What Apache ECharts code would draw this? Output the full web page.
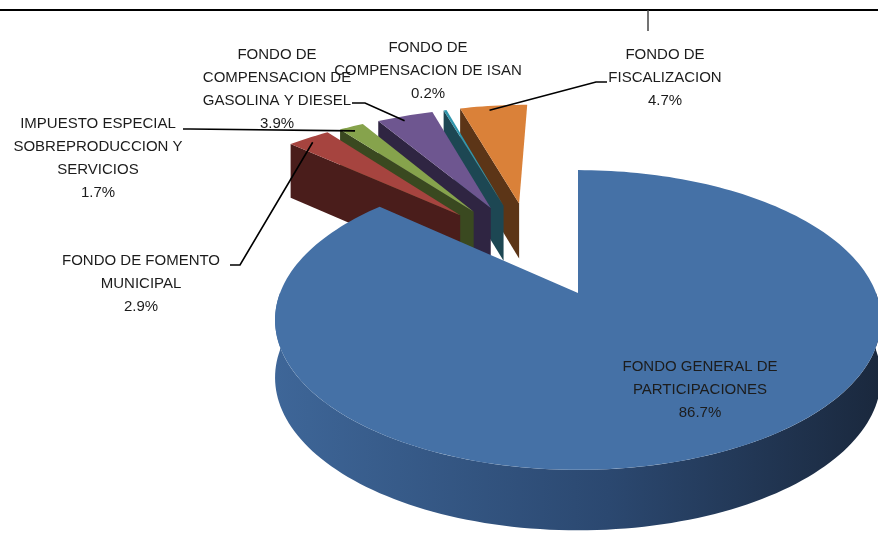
<!DOCTYPE html>
<html>
<head>
<meta charset="utf-8">
<script src="https://cdn.jsdelivr.net/npm/echarts@6/dist/echarts.min.js"></script>
<style>
  html, body { margin: 0; padding: 0; background: #fff; }
  #chart { width: 878px; height: 533px; }
</style>
</head>
<body>
<div id="chart"></div>
<script>
// Data (pie order, clockwise from 12 o'clock)
const categories = [
    'FONDO GENERAL DE\nPARTICIPACIONES',
    'FONDO DE FOMENTO\nMUNICIPAL',
    'IMPUESTO ESPECIAL\nSOBREPRODUCCION Y\nSERVICIOS',
    'FONDO DE\nCOMPENSACION DE\nGASOLINA Y DIESEL',
    'FONDO DE\nCOMPENSACION DE ISAN',
    'FONDO DE\nFISCALIZACION'
];
const shares = [86.7, 2.9, 1.7, 3.9, 0.2, 4.7];

// Styling
const topColors = ['#4571a6', '#a6443f', '#86a34c', '#6e5690', '#3196ad', '#da8139'];
const sideColors = ['#2c4a70', '#4a1d1b', '#3a4920', '#2f2542', '#1d4753', '#5c3517'];
const explode = [0, 0.72, 0.72, 0.72, 0.72, 0.72];

// label block centres and leader line points (label side)
const labelPos = [[700, 390], [141, 284], [98, 158], [277, 89], [428, 71], [665, 78]];
const leaderPts = [null, [[230, 265], [240, 265]], [[183, 129], [190, 129]], [[352, 103], [365, 103]], null, [[607, 82], [596, 82]]];

// Pseudo-3D view
const VIEW = { cx: 578, cy: 293, sx: 298, sy: 145, p: 0.18, depth: 57 };
const FONT = 'Liberation Sans';

function proj(X, Y, top) {
    const den = 1 + VIEW.p * Y;
    return [
        VIEW.cx + X * VIEW.sx / den,
        VIEW.cy - Y * VIEW.sy / den + (top ? 0 : VIEW.depth / Math.pow(den, 0.3))
    ];
}
const rad = d => d * Math.PI / 180;

// slice geometry from the shares
const total = shares.reduce((a, b) => a + b, 0);
const geom = [];
let acc = 0;
shares.forEach((v, i) => {
    const a0 = acc / total * 360;
    acc += v;
    const a1 = acc / total * 360;
    geom.push({ a0, a1, mid: (a0 + a1) / 2 });
});
const exploded = geom.filter((g, i) => explode[i] > 0);
const groupMid = exploded.length ? (exploded[0].a0 + exploded[exploded.length - 1].a1) / 2 : 0;
geom.forEach((g, i) => {
    const phi = g.mid + 0.45 * (groupMid - g.mid);
    g.ox = explode[i] * Math.sin(rad(phi)) - (explode[i] > 0 ? 0.03 : 0);
    g.oy = explode[i] * Math.cos(rad(phi));
    g.depthKey = g.oy + 0.6 * Math.cos(rad(g.mid));
});
// back to front
const order = geom.map((g, i) => i).sort((a, b) => geom[b].depthKey - geom[a].depthKey);
const rank = [];
order.forEach((idx, r) => { rank[idx] = r; });

function rimPts(g, from, to, r, top) {
    const pts = [];
    const n = Math.max(2, Math.ceil((to - from) / 1.5));
    for (let k = 0; k <= n; k++) {
        const a = rad(from + (to - from) * k / n);
        pts.push(proj(g.ox + r * Math.sin(a), g.oy + r * Math.cos(a), top));
    }
    return pts;
}

function wallVisible(g, a, sign) {
    const n = sign < 0 ? [-Math.cos(rad(a)), Math.sin(rad(a))] : [Math.cos(rad(a)), -Math.sin(rad(a))];
    const mx = g.ox + 0.5 * Math.sin(rad(a)), my = g.oy + 0.5 * Math.cos(rad(a));
    const vx = -mx, vy = -1 / VIEW.p - my;
    return n[0] * vx + n[1] * vy > 0.4;
}

function renderItem(params, api) {
    const i = params.dataIndex;
    const g = geom[i];
    const base = rank[i] * 10;
    const children = [];
    const apexTop = proj(g.ox, g.oy, true);
    const apexBot = proj(g.ox, g.oy, false);

    // radial walls
    [[g.a0, -1], [g.a1, 1]].forEach(([a, s]) => {
        if (!wallVisible(g, a, s)) return;
        const rt = proj(g.ox + Math.sin(rad(a)), g.oy + Math.cos(rad(a)), true);
        const rb = proj(g.ox + Math.sin(rad(a)), g.oy + Math.cos(rad(a)), false);
        children.push({
            type: 'polygon', z2: base + 1,
            shape: { points: [apexTop, rt, rb, apexBot] },
            style: { fill: sideColors[i] }
        });
    });

    // outer wall (front half only)
    const f0 = Math.max(g.a0, 90), f1 = Math.min(g.a1, 270);
    if (f1 > f0) {
        const topArc = rimPts(g, f0, f1, 1, true);
        const botArc = rimPts(g, f0, f1, 1, false).reverse();
        const xs = topArc.map(p => p[0]);
        children.push({
            type: 'polygon', z2: base + 2,
            shape: { points: topArc.concat(botArc) },
            style: {
                fill: new echarts.graphic.LinearGradient(Math.max(...xs), 0, Math.min(...xs), 0, [
                    { offset: 0, color: '#1a283d' },
                    { offset: 0.45, color: '#2b4870' },
                    { offset: 1, color: '#3e6698' }
                ], true)
            }
        });
    }

    // top face
    children.push({
        type: 'polygon', z2: base + 3,
        shape: { points: [apexTop].concat(rimPts(g, g.a0, g.a1, 1, true)) },
        style: { fill: topColors[i] }
    });

    // leader line
    if (leaderPts[i]) {
        const a = rad(g.a0 + 0.42 * (g.a1 - g.a0));
        const anchor = proj(g.ox + 0.95 * Math.sin(a), g.oy + 0.95 * Math.cos(a), true);
        children.push({
            type: 'polyline', z2: 200,
            shape: { points: leaderPts[i].concat([anchor]) },
            style: { stroke: '#000', lineWidth: 1.6, fill: null }
        });
    }

    // label
    children.push({
        type: 'text', z2: 210,
        x: labelPos[i][0], y: labelPos[i][1],
        style: {
            text: categories[i] + '\n' + shares[i].toFixed(1) + '%',
            fill: '#1c1c1c',
            fontSize: 15,
            fontFamily: FONT,
            lineHeight: 23,
            align: 'center',
            verticalAlign: 'middle'
        }
    });

    return { type: 'group', children };
}

const chart = echarts.init(document.getElementById('chart'), null, { renderer: 'canvas' });
chart.setOption({
    animation: false,
    backgroundColor: '#fff',
    graphic: [
        { type: 'line', shape: { x1: 0, y1: 10, x2: 878, y2: 10 }, style: { stroke: '#000', lineWidth: 2 } },
        { type: 'line', shape: { x1: 648, y1: 10, x2: 648, y2: 31 }, style: { stroke: '#444', lineWidth: 1.5 } }
    ],
    series: [{
        type: 'custom',
        coordinateSystem: 'none',
        renderItem: renderItem,
        data: shares.map((v, i) => ({ name: categories[i], value: v }))
    }]
});
</script>
</body>
</html>
